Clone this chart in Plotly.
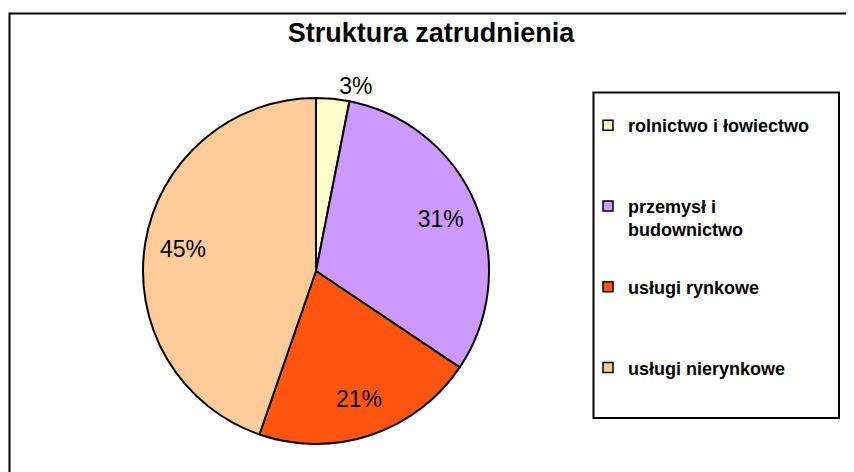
import plotly.graph_objects as go

categories = ["rolnictwo i łowiectwo", "przemysł i<br>budownictwo", "usługi rynkowe", "usługi nierynkowe"]
values = [3.1, 31.3, 20.9, 44.7]
colors = ["#FFFFCC", "#CC99FF", "#FF5511", "#FFCC99"]
title_text = "Struktura zatrudnienia"

W, H = 854, 472
OFF = 8  # page body margin offset
FONT = "Liberation Sans, Arial, sans-serif"


def px(x):
    return (x - OFF) / W


def py(y):
    return 1 - (y - OFF) / H


CX, CY, R = 316, 271, 173
dom = dict(x=[px(CX - R), px(CX + R)], y=[py(CY + R), py(CY - R)])

fig = go.Figure()

# filled pie (no text)
fig.add_trace(go.Pie(
    labels=categories, values=values, sort=False, direction="clockwise", rotation=0,
    marker=dict(colors=colors, line=dict(color="black", width=2)),
    textinfo="none", showlegend=False, hoverinfo="label+percent", domain=dom,
))

# transparent ring on top, used to place the percentage labels near the rim
fig.add_trace(go.Pie(
    labels=categories, values=values, sort=False, direction="clockwise", rotation=0,
    hole=0.56,
    marker=dict(colors=["rgba(0,0,0,0)"] * len(values), line=dict(width=0)),
    texttemplate="%{percent:.0%}",
    textposition=["outside", "inside", "inside", "inside"],
    insidetextorientation="horizontal",
    textfont=dict(family=FONT, size=23, color="black"),
    showlegend=False, hoverinfo="skip", domain=dom,
))

# legend entries (all given two text lines so entries are evenly spaced)
for i, (c, col) in enumerate(zip(categories, colors)):
    name = c if "<br>" in c else c + "<br>\u00a0"
    fig.add_trace(go.Scatter(
        x=[None], y=[None], mode="markers", name=name,
        marker=dict(symbol="square", size=10, color=col, line=dict(color="black", width=1.5)),
        legendgroup=f"g{i}", showlegend=True,
    ))

fig.update_layout(
    width=W, height=H,
    margin=dict(l=0, r=0, t=0, b=0),
    paper_bgcolor="white", plot_bgcolor="white",
    xaxis=dict(visible=False), yaxis=dict(visible=False),
    title=dict(text="<b>" + title_text + "</b>", x=px(431), xanchor="center",
               y=py(33), yanchor="middle",
               font=dict(family=FONT, size=27, color="black")),
    legend=dict(x=px(588), y=py(107), xanchor="left", yanchor="top",
                bgcolor="rgba(0,0,0,0)", borderwidth=0, valign="top",
                tracegroupgap=31, itemwidth=30,
                font=dict(family=FONT, size=18, color="black", weight="bold")),
    shapes=[
        dict(type="rect", xref="paper", yref="paper",
             x0=px(9.5), x1=1.05, y0=-0.05, y1=py(13.5),
             line=dict(color="black", width=2), layer="below"),
        dict(type="rect", xref="paper", yref="paper",
             x0=px(593.5), x1=px(839), y0=py(418), y1=py(92.5),
             line=dict(color="black", width=2), layer="below"),
    ],
)

fig.write_html("out.html")
